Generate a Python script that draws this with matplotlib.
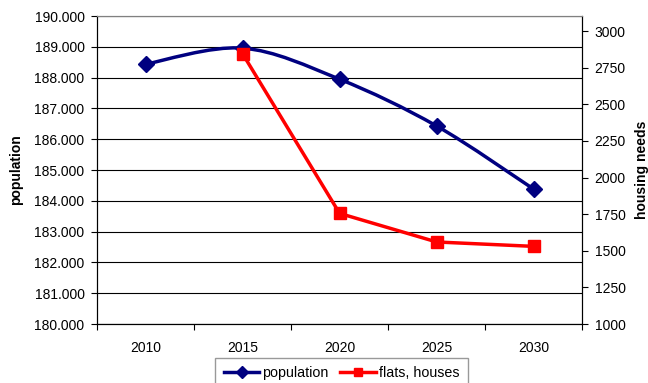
import numpy as np
import matplotlib.pyplot as plt
from matplotlib.path import Path
from matplotlib.patches import PathPatch
from matplotlib.lines import Line2D
from matplotlib.ticker import FuncFormatter

plt.rcParams['font.family'] = ['Liberation Sans', 'DejaVu Sans']

years = ['2010', '2015', '2020', '2025', '2030']
population = [188440, 188960, 187950, 186430, 184380]
flats_houses = [2845, 1755, 1560, 1530]
flats_years = ['2015', '2020', '2025', '2030']

navy = '#000080'
red = '#ff0000'


def smooth_path(xs, ys):
    # bezier segments like a spreadsheet "smoothed line"
    pts = np.column_stack([xs, ys]).astype(float)
    n = len(pts)
    verts = [pts[0]]
    codes = [Path.MOVETO]
    for i in range(n - 1):
        p0 = pts[max(i - 1, 0)]
        p1 = pts[i]
        p2 = pts[i + 1]
        p3 = pts[min(i + 2, n - 1)]
        c1 = p1 + (p2 - p0) / 6.0
        c2 = p2 - (p3 - p1) / 6.0
        verts += [c1, c2, p2]
        codes += [Path.CURVE4] * 3
    return Path(verts, codes)


fig = plt.figure(figsize=(6.48, 3.83), dpi=100)
ax = fig.add_axes([0.1497, 0.154, 0.7488, 0.804])
ax2 = ax.twinx()

x = np.arange(len(years))
xf = [years.index(y) for y in flats_years]

ax.add_patch(PathPatch(smooth_path(x, population), facecolor='none',
                       edgecolor=navy, lw=2.5, zorder=3))
ax.plot(x, population, ls='none', marker='D', ms=8, color=navy, zorder=4)

ax2.plot(xf, flats_houses, color=red, lw=2.5, marker='s', ms=9, zorder=4)

ax.set_xlim(-0.5, 4.5)
ax.set_ylim(180000, 190000)
ax.set_yticks(np.arange(180000, 190001, 1000))
ax.yaxis.set_major_formatter(FuncFormatter(lambda v, p: f"{v:,.0f}".replace(",", ".")))
ax.grid(axis='y', color='black', lw=0.8)
ax.set_axisbelow(True)

ax.set_xticks(np.arange(-0.5, 5, 1))
ax.set_xticklabels([])
ax.set_xticks(x, minor=True)
ax.set_xticklabels(years, minor=True)
ax.tick_params(axis='x', which='major', length=4, width=0.8, direction='out')
ax.tick_params(axis='x', which='minor', length=0, pad=12, labelsize=10)
ax.tick_params(axis='y', length=4, width=0.8, pad=5, labelsize=10)

ax2.set_ylim(1000, 3102)
ax2.set_yticks(np.arange(1000, 3001, 250))
ax2.tick_params(axis='y', length=4, width=0.8, pad=5, labelsize=10)

for a in (ax, ax2):
    a.spines['top'].set_color('#808080')
    for s in ('left', 'right', 'bottom'):
        a.spines[s].set_color('black')
        a.spines[s].set_linewidth(0.8)

fig.text(0.024, 0.556, 'population', rotation=90, fontweight='bold',
         fontsize=10, ha='center', va='center')
fig.text(0.99, 0.556, 'housing needs', rotation=90, fontweight='bold',
         fontsize=10, ha='center', va='center')

handles = [Line2D([], [], color=navy, lw=2.5, marker='D', ms=6),
           Line2D([], [], color=red, lw=2.5, marker='s', ms=6)]
leg = fig.legend(handles, ['population', 'flats, houses'], loc='upper center',
                 bbox_to_anchor=(0.527, 0.066), ncol=2, fontsize=10.3,
                 frameon=True, fancybox=False, handlelength=2.5,
                 handletextpad=0.2, columnspacing=0.8, borderpad=0.6,
                 borderaxespad=0)
leg.get_frame().set_edgecolor('#808080')
leg.get_frame().set_linewidth(1.0)

fig.savefig('out.png', dpi=100)
